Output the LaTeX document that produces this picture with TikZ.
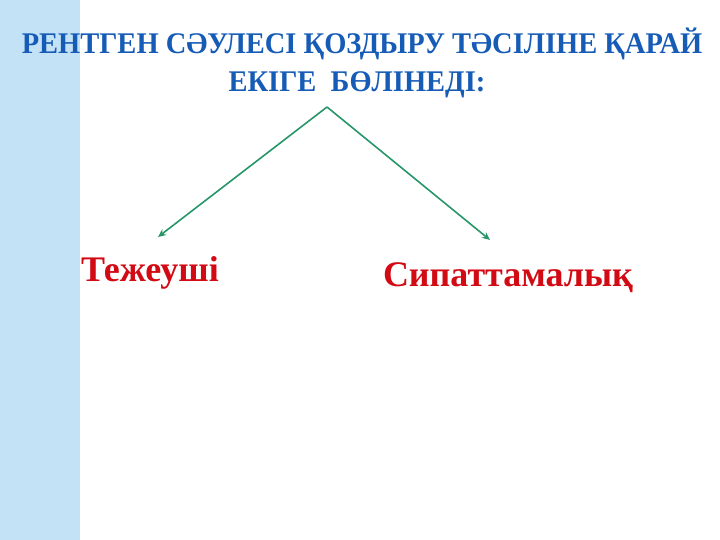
\documentclass[tikz,border=0pt]{standalone}
\usepackage{fontspec}
\setmainfont{Liberation Serif}
\usepackage{tikz}
\usetikzlibrary{arrows.meta}
\usetikzlibrary{positioning}
\definecolor{sideblue}{RGB}{196, 226, 246}
\definecolor{titleblue}{RGB}{22, 92, 182}
\definecolor{arrowgreen}{RGB}{38, 150, 105}
\definecolor{labelred}{RGB}{210, 10, 20}

\tikzset{
  heading/.style={titleblue, font=\fontsize{30}{36}\selectfont\bfseries, inner sep=0pt, anchor=base},
  branch/.style={arrowgreen, line width=1.6pt, -{Stealth[length=8pt, width=7pt]}},
  kind/.style={labelred, font=\fontsize{36}{40}\selectfont\bfseries, inner sep=0pt, anchor=base}
}

\begin{document}
\begin{tikzpicture}[x=1pt, y=1pt]

    \useasboundingbox (0, 0) rectangle (720, 540);
    \fill [sideblue] (0, 0) rectangle (80, 540);

    \node [heading] (title) at (362, 486) {\scalebox{0.95}[1]{РЕНТГЕН СӘУЛЕСІ ҚОЗДЫРУ ТӘСІЛІНЕ ҚАРАЙ}};
    \node [heading] (subtitle) at (357, 448) {\scalebox{0.95}[1]{ЕКІГЕ \ БӨЛІНЕДІ:}};

    \coordinate (apex) at (327, 433);
    \coordinate (leftend) at (158, 303);
    \coordinate (rightend) at (490, 300);

    \node [kind] (brake) at (150, 258) {Тежеуші};
    \node [kind] (char) at (508, 253) {Сипаттамалық};

    \draw [branch] (apex) -- (leftend);
    \draw [branch] (apex) -- (rightend);

  \end{tikzpicture}
\end{document}
